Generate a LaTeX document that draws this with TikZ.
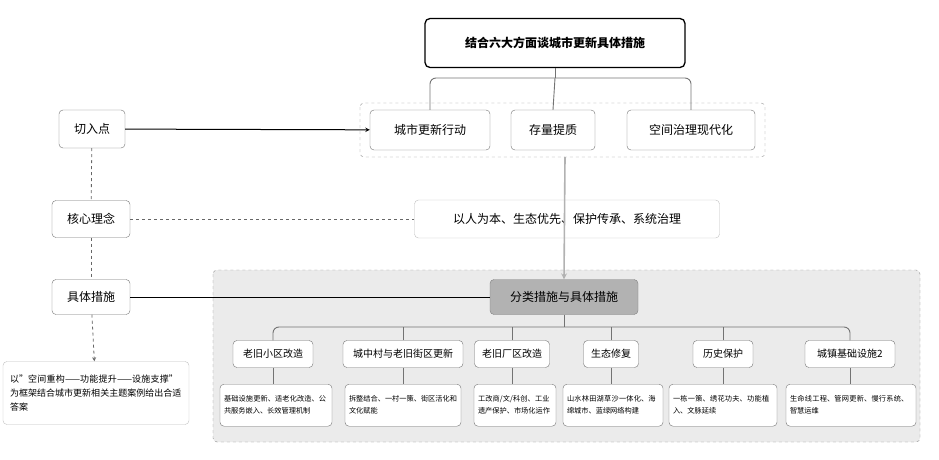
\documentclass[tikz,border=0pt]{standalone}
\usepackage{fontspec}
\setmainfont{Noto Sans CJK SC}
\XeTeXlinebreaklocale "zh"
\XeTeXlinebreakskip = 0pt plus 1pt
\begin{document}
\begin{tikzpicture}[x=1pt,y=-1pt,
 box/.style={draw=black!55,rounded corners=4pt,fill=white,align=center,inner sep=0pt},
 big/.style={box,font=\fontsize{12}{14}\selectfont},
 cat/.style={box,font=\fontsize{10}{12}\selectfont,minimum height=27pt},
 det/.style={box,font=\fontsize{7.2}{12}\selectfont,align=left,text width=#1,inner sep=4pt,minimum height=42pt},
 ln/.style={draw=black!55,line width=0.9pt,rounded corners=6pt}]
\useasboundingbox (0,0) rectangle (939,460);
\fill[black!8,rounded corners=4pt] (213,270) rectangle (920,442);
\draw[black!45,dashed,rounded corners=4pt] (213,270) rectangle (920,442);
\draw[black!45,dashed,rounded corners=4pt] (360,103) rectangle (765,157);
% title
\node[draw=black,line width=1.3pt,rounded corners=5pt,minimum width=260pt,minimum height=49pt,font=\bfseries\fontsize{12}{14}\selectfont] (t) at (555,43) {结合六大方面谈城市更新具体措施};
\node[big,minimum width=120pt,minimum height=40pt] (a1) at (430,130) {城市更新行动};
\node[big,minimum width=84pt,minimum height=40pt] (a2) at (553,130) {存量提质};
\node[big,minimum width=128pt,minimum height=40pt] (a3) at (691,130) {空间治理现代化};
\draw[ln] (t.south) -- (555,78);
\draw[ln] (a1.north) |- (555,78) -| (a3.north);
\draw[ln] (555,78) -- (a2.north);
% left
\node[big,minimum width=66pt,minimum height=38pt] (l1) at (92,129) {切入点};
\node[big,minimum width=78pt,minimum height=37pt] (l2) at (91,219) {核心理念};
\node[big,minimum width=78pt,minimum height=35pt] (l3) at (91,297) {具体措施};
\node[box,font=\fontsize{9}{14}\selectfont,align=left,text width=172pt,inner sep=7pt,minimum height=63pt,draw=black!25] (l4) at (96,393) {以"空间重构——功能提升——设施支撑"为框架结合城市更新相关主题案例给出合适答案};
\draw[line width=1pt,-stealth] (l1) -- (a1);
\node[big,minimum width=305pt,minimum height=38pt,draw=black!25] (c) at (567,219) {以人为本、生态优先、保护传承、系统治理};
\draw[dashed,black!60,line width=0.8pt] (l2) -- (c);
\node[big,fill=black!30,draw=black!50,minimum width=148pt,minimum height=35pt] (m) at (564,297) {分类措施与具体措施};
\draw[line width=1pt] (l3) -- (m);
\draw[black!60,dashed,line width=0.8pt] (l1) -- (l2);
\draw[black!60,dashed,line width=0.8pt] (l2) -- (l3);
\draw[black!60,dashed,line width=0.8pt,-stealth] (l3) -- (l4);
\draw[black!30,line width=1.6pt,-stealth] (565,157) -- (m.north);
% categories
\node[cat,minimum width=80pt] (k1) at (273,354) {老旧小区改造};
\node[cat,minimum width=120pt] (k2) at (403,354) {城中村与老旧街区更新};
\node[cat,minimum width=75pt] (k3) at (512,354) {老旧厂区改造};
\node[cat,minimum width=55pt] (k4) at (611,354) {生态修复};
\node[cat,minimum width=60pt] (k5) at (723,354) {历史保护};
\node[cat,minimum width=90pt] (k6) at (850,354) {城镇基础设施2};
\draw[ln] (m.south) -- (564,327);
\draw[ln] (k1.north) |- (564,327) -| (k6.north);
\foreach \k in {k2,k3,k4,k5} \draw[ln] (\k.north) -- (\k.north |- 0,327);
\node[det=104pt,anchor=north] (d1) at (276,384) {基础设施更新、适老化改造、公共服务嵌入、长效管理机制};
\node[det=108pt,anchor=north] (d2) at (403,384) {拆整结合、一村一策、街区活化和文化赋能};
\node[det=74pt,anchor=north] (d3) at (515,384) {工改商/文/科创、工业遗产保护、市场化运作};
\node[det=92pt,anchor=north] (d4) at (613,384) {山水林田湖草沙一体化、海绵城市、蓝绿网络构建};
\node[det=100pt,anchor=north] (d5) at (723,384) {一栋一策、绣花功夫、功能植入、文脉延续};
\node[det=122pt,anchor=north] (d6) at (851,384) {生命线工程、管网更新、慢行系统、智慧运维};
\foreach \i in {1,...,6} \draw[ln] (k\i.south) -- (k\i.south |- d\i.north);
\end{tikzpicture}
\end{document}
